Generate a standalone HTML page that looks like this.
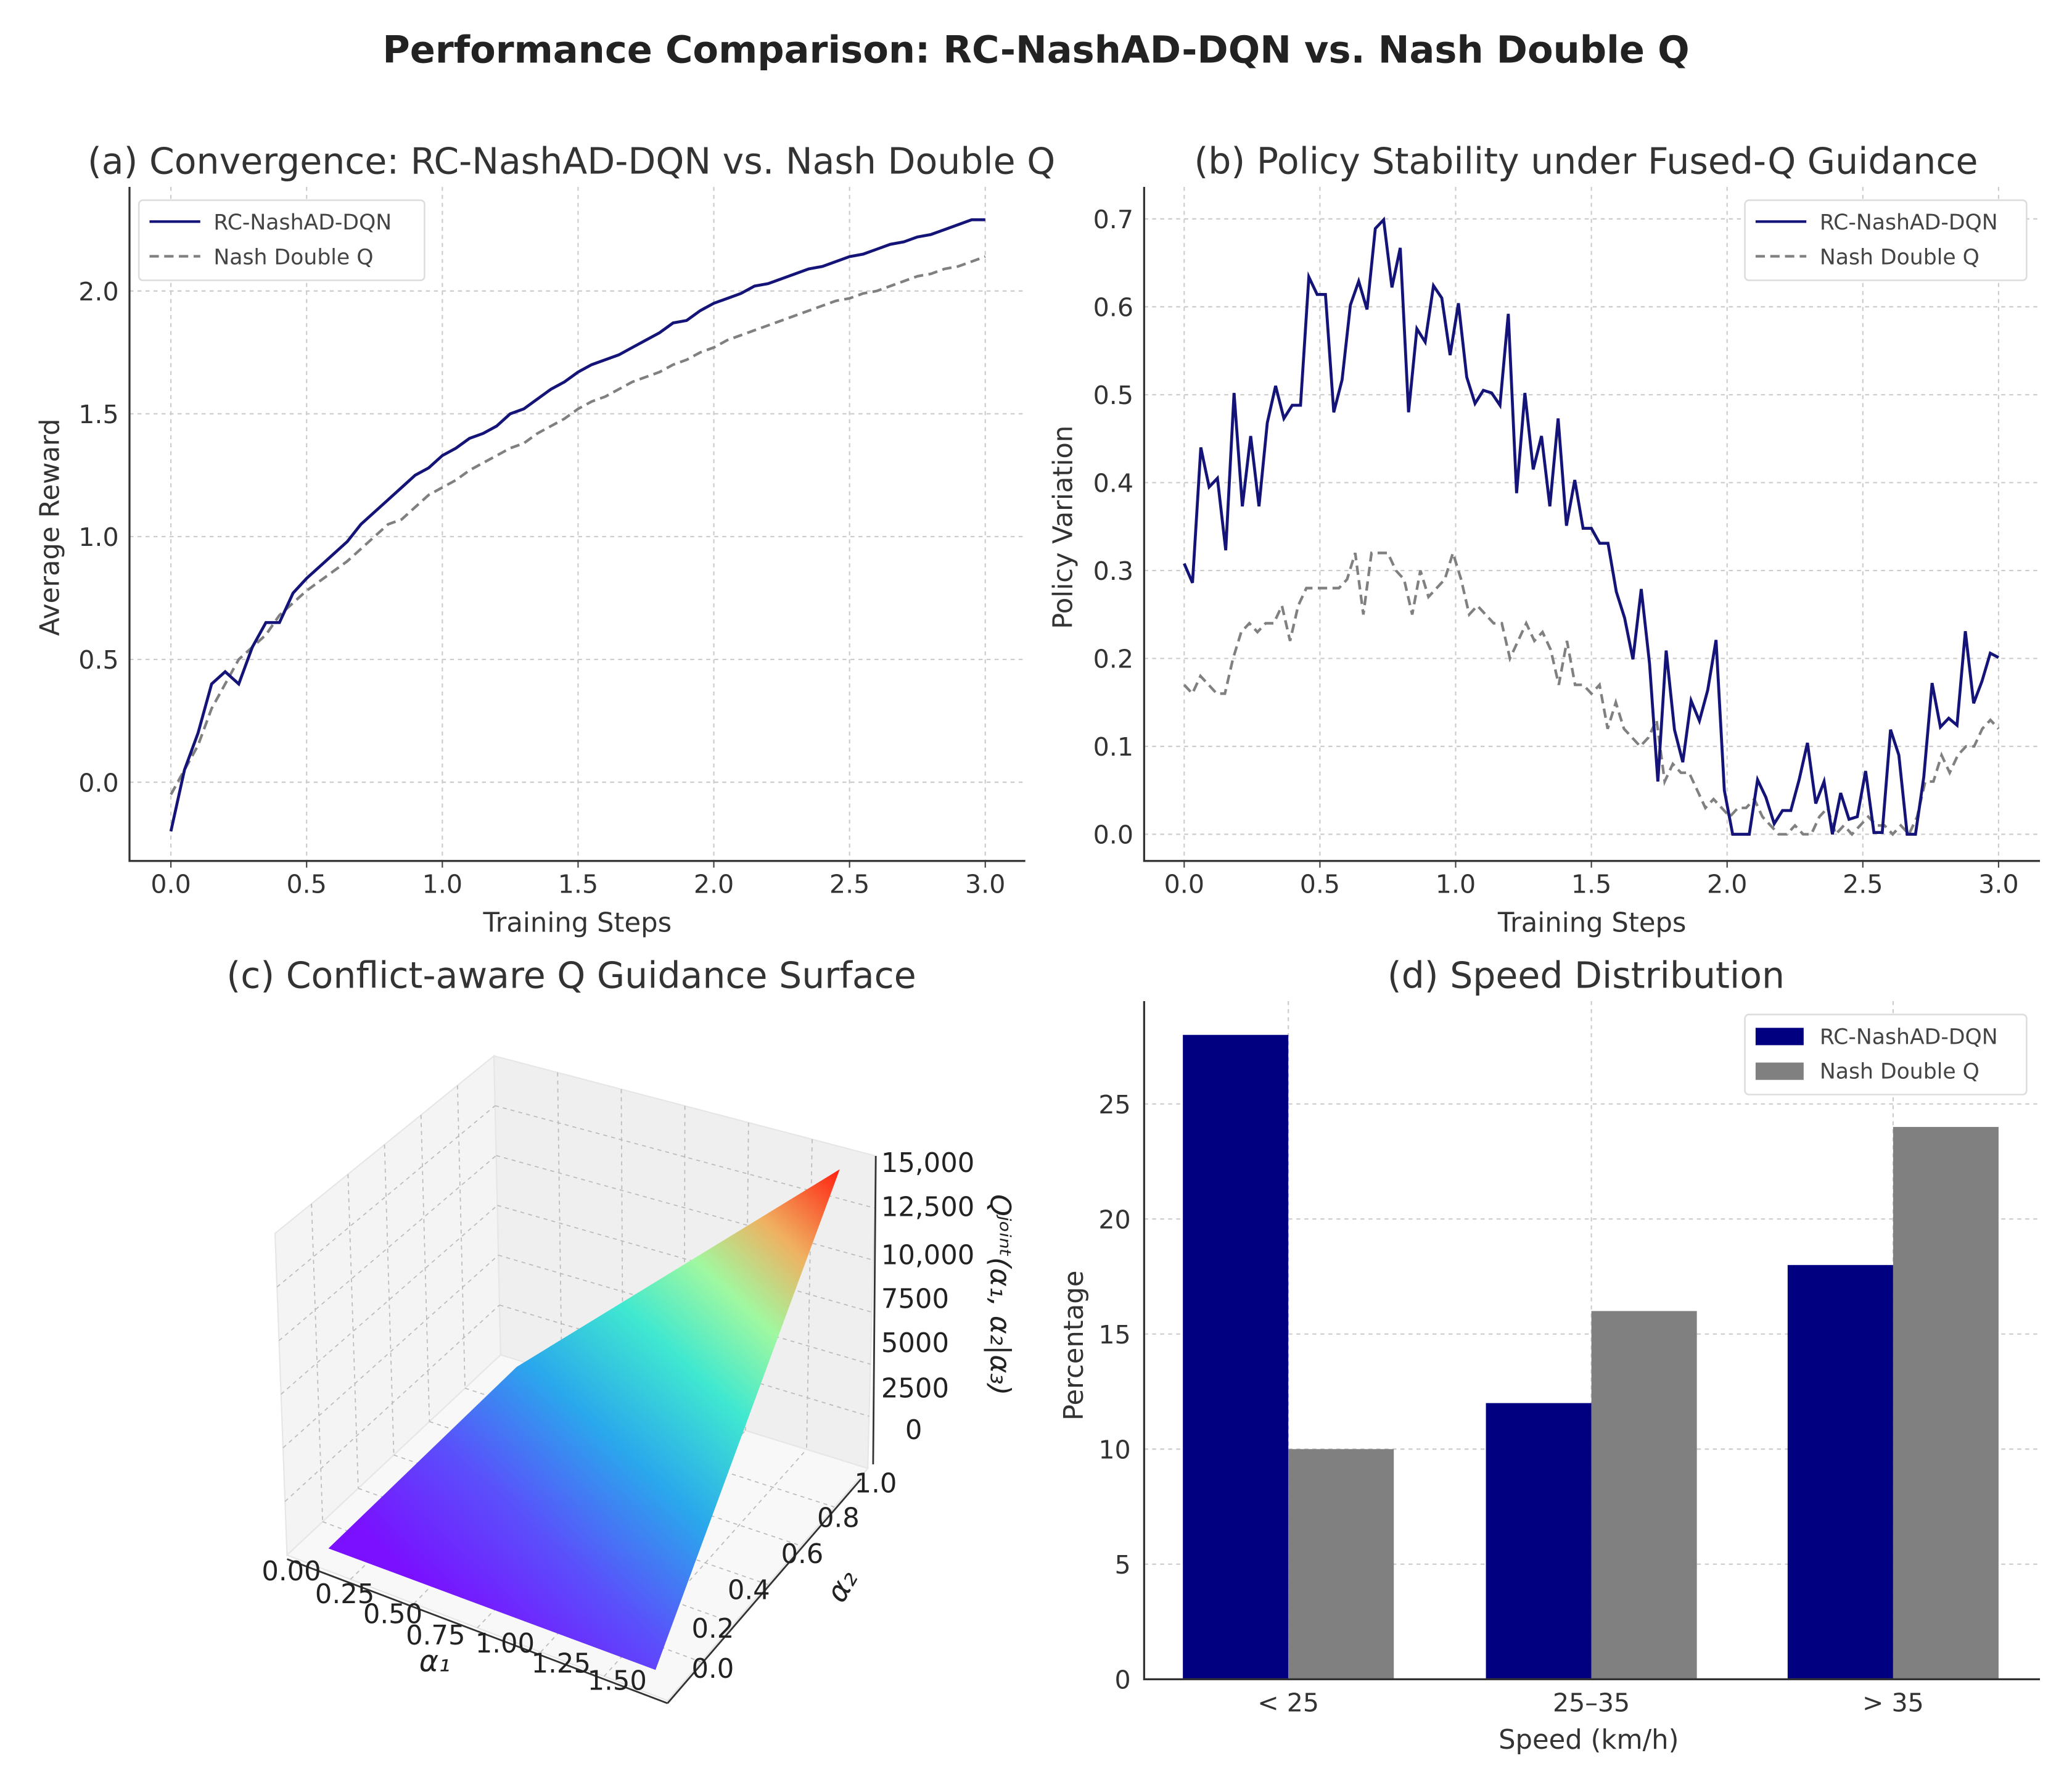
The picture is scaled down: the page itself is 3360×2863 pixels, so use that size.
<!DOCTYPE html>
<html><head><meta charset="utf-8">
<style>
html,body{margin:0;padding:0;background:#fff;}
svg{display:block;}
text{font-family:"DejaVu Sans","Liberation Sans",sans-serif;}
</style></head>
<body>
<svg id="fig" xmlns="http://www.w3.org/2000/svg" width="3360" height="2863" viewBox="0 0 1552 1323" preserveAspectRatio="none">
<defs>
<linearGradient id="rain" gradientUnits="userSpaceOnUse" x1="330" y1="1200" x2="629" y2="876">
<stop offset="0" stop-color="#7a10ff"/>
<stop offset="0.2" stop-color="#5a50fb"/>
<stop offset="0.4" stop-color="#2aa8ec"/>
<stop offset="0.58" stop-color="#40e8d0"/>
<stop offset="0.72" stop-color="#a0f8a0"/>
<stop offset="0.85" stop-color="#f0b060"/>
<stop offset="1" stop-color="#ff2010"/>
</linearGradient>
</defs>
<text x="776" y="47" text-anchor="middle" font-size="28" font-weight="bold" fill="#222">Performance Comparison: RC-NashAD-DQN vs. Nash Double Q</text>
<g id="pa"></g>
<g id="pb"></g>
<g id="pc"></g>
<g id="pd"></g>
</svg>
<script>
// Panel (a) data
const aBlue = [-0.2,0.05,0.2,0.4,0.45,0.4,0.55,0.65,0.65,0.77,0.83,0.88,0.93,0.98,1.05,1.1,1.15,1.2,1.25,1.28,1.33,1.36,1.4,1.42,1.45,1.5,1.52,1.56,1.6,1.63,1.67,1.7,1.72,1.74,1.77,1.8,1.83,1.87,1.88,1.92,1.95,1.97,1.99,2.02,2.03,2.05,2.07,2.09,2.1,2.12,2.14,2.15,2.17,2.19,2.2,2.22,2.23,2.25,2.27,2.29,2.29];
const aGray = [-0.05,0.05,0.15,0.3,0.4,0.5,0.55,0.6,0.68,0.73,0.78,0.82,0.86,0.9,0.95,1.0,1.05,1.07,1.12,1.17,1.2,1.23,1.27,1.3,1.33,1.36,1.38,1.42,1.45,1.48,1.52,1.55,1.57,1.6,1.63,1.65,1.67,1.7,1.72,1.75,1.77,1.8,1.82,1.84,1.86,1.88,1.9,1.92,1.94,1.96,1.97,1.99,2.0,2.02,2.04,2.06,2.07,2.09,2.1,2.12,2.14];
const aXTicks = [0,0.5,1,1.5,2,2.5,3];
const aXLabels = ["0.0","0.5","1.0","1.5","2.0","2.5","3.0"];
const aYTicks = [0,0.5,1,1.5,2];
const aYLabels = ["0.0","0.5","1.0","1.5","2.0"];
// Panel (b) data
const bBlue = [0.308,0.286,0.44,0.395,0.405,0.323,0.502,0.373,0.453,0.373,0.468,0.51,0.473,0.488,0.488,0.634,0.614,0.614,0.48,0.517,0.602,0.629,0.597,0.689,0.699,0.622,0.667,0.48,0.575,0.56,0.624,0.61,0.545,0.604,0.52,0.49,0.505,0.502,0.488,0.592,0.388,0.502,0.415,0.453,0.373,0.473,0.351,0.403,0.348,0.348,0.331,0.331,0.276,0.246,0.199,0.279,0.194,0.06,0.209,0.119,0.082,0.152,0.129,0.164,0.221,0.05,0,0,0,0.062,0.042,0.012,0.027,0.027,0.062,0.104,0.035,0.06,0,0.047,0.017,0.02,0.072,0.002,0.002,0.119,0.09,0,0,0.065,0.172,0.122,0.132,0.124,0.231,0.149,0.174,0.206,0.201];
const bGray = [0.17,0.16,0.18,0.17,0.16,0.16,0.2,0.23,0.24,0.23,0.24,0.24,0.26,0.22,0.26,0.28,0.28,0.28,0.28,0.28,0.29,0.32,0.25,0.32,0.32,0.32,0.3,0.29,0.25,0.3,0.27,0.28,0.29,0.32,0.29,0.25,0.26,0.25,0.24,0.24,0.2,0.22,0.24,0.22,0.23,0.21,0.17,0.22,0.17,0.17,0.16,0.17,0.12,0.15,0.12,0.11,0.1,0.11,0.13,0.06,0.08,0.07,0.07,0.05,0.03,0.04,0.03,0.02,0.03,0.03,0.04,0.02,0.01,0,0,0.01,0,0,0.02,0.03,0,0.01,0,0.01,0.02,0.01,0.01,0,0.01,0,0.02,0.06,0.06,0.09,0.07,0.09,0.1,0.1,0.12,0.13,0.12];
const bXTicks = [0,0.5,1,1.5,2,2.5,3];
const bXLabels = ["0.0","0.5","1.0","1.5","2.0","2.5","3.0"];
const bYTicks = [0,0.1,0.2,0.3,0.4,0.5,0.6,0.7];
const bYLabels = ["0.0","0.1","0.2","0.3","0.4","0.5","0.6","0.7"];
// Panel (d) data
const dCategories = ["< 25","25–35","> 35"];
const dBlue = [28,12,18];
const dGray = [10,16,24];
const dYTicks = [0,5,10,15,20,25];
const dYLabels = ["0","5","10","15","20","25"];

const NS="http://www.w3.org/2000/svg";
function mk(parent,tag,attrs,txt){const e=document.createElementNS(NS,tag);for(const k in attrs)e.setAttribute(k,attrs[k]);if(txt!==undefined)e.textContent=txt;parent.appendChild(e);return e;}

function linePanel(g,cfg){
  const {L,R,T,B,x0px,x3px,ymap,xT,xL,yT,yL,blue,gray,title,titleX,ylabel,ylabelX}=cfg;
  const xs=v=>x0px+(x3px-x0px)*v/3;
  xT.forEach((v,i)=>{
    const gl=mk(g,'line',{x1:xs(v),x2:xs(v),y1:T,y2:B,stroke:'#ccc','stroke-width':1,'stroke-dasharray':'3,3'});
    
    
    const tk=mk(g,'line',{x1:xs(v),x2:xs(v),y1:B,y2:B+5,stroke:'#444','stroke-width':1});
    
    
    const t=mk(g,'text',{x:xs(v),y:B+24,'text-anchor':'middle','font-size':19,fill:'#333'},xL[i]);
    
    
  });
  yT.forEach((v,i)=>{
    const gl=mk(g,'line',{x1:L,x2:R,y1:ymap(v),y2:ymap(v),stroke:'#ccc','stroke-width':1,'stroke-dasharray':'3,3'});
    
    
    const t=mk(g,'text',{x:L-8,y:ymap(v)+7,'text-anchor':'end','font-size':19,fill:'#333'},yL[i]);
    
    
  });
  const ax=mk(g,'path',{d:`M${L},${T} L${L},${B} L${R},${B}`,fill:'none',stroke:'#333','stroke-width':1.5});
  
  
  const pts=arr=>arr.map((v,i)=>`${xs(3*i/(arr.length-1)).toFixed(2)},${ymap(v).toFixed(2)}`).join(' ');
  const pg=mk(g,'polyline',{points:pts(gray),fill:'none',stroke:'#808080','stroke-width':2,'stroke-dasharray':'7,4'});
  
  
  const pb=mk(g,'polyline',{points:pts(blue),fill:'none',stroke:'#141478','stroke-width':2.2});
  
  
  const tt=mk(g,'text',{x:titleX,y:130,'text-anchor':'middle','font-size':27,fill:'#333'},title);
  
  
  const xl=mk(g,'text',{x:(L+R)/2,y:698,'text-anchor':'middle','font-size':20,fill:'#333'},'Training Steps');
  
  
  const yl=mk(g,'text',{x:ylabelX,y:395,'text-anchor':'middle','font-size':20,fill:'#333',transform:`rotate(-90 ${ylabelX} 395)`},ylabel);
  
  
}
function legend(g,x,y,w,bars){
  const bx=mk(g,'rect',{x:x,y:y,width:w,height:60,rx:3,fill:'#fff',stroke:'#ddd','stroke-width':1.2});
  
  
  const names=['RC-NashAD-DQN','Nash Double Q'];
  names.forEach((n,i)=>{
    const yy=y+16+i*26;
    if(bars){
      const r=mk(g,'rect',{x:x+8,y:yy-6,width:36,height:13,fill:i?'#808080':'#000080'});
      
      
    } else {
      const l=mk(g,'line',{x1:x+8,x2:x+46,y1:yy,y2:yy,stroke:i?'#808080':'#141478','stroke-width':2,'stroke-dasharray':i?'7,4':'none'});
      
      
    }
    const t=mk(g,'text',{x:x+56,y:yy+6,'font-size':16,fill:'#444'},n);
    
    
  });
}

const pa=document.getElementById('pa');
linePanel(pa,{L:97,R:768,T:140,B:645,x0px:128,x3px:738,ymap:v=>586-184*v,xT:aXTicks,xL:aXLabels,yT:aYTicks,yL:aYLabels,blue:aBlue,gray:aGray,title:'(a) Convergence: RC-NashAD-DQN vs. Nash Double Q',titleX:428,ylabel:'Average Reward',ylabelX:44});
legend(pa,104,150,214,false);

const pb=document.getElementById('pb');
linePanel(pb,{L:857,R:1528,T:140,B:645,x0px:887,x3px:1497,ymap:v=>625-658.6*v,xT:bXTicks,xL:bXLabels,yT:bYTicks,yL:bYLabels,blue:bBlue,gray:bGray,title:'(b) Policy Stability under Fused-Q Guidance',titleX:1188,ylabel:'Policy Variation',ylabelX:803});
legend(pb,1307,150,211,false);

// Panel (d)
const pd=document.getElementById('pd');
(function(){
  const L=857,R=1528,T=750,B=1258;
  const ys=v=>B-17.24*v;
  const centers=[965,1192,1418], bw=79;
  dYTicks.forEach((v,i)=>{
    const gl=mk(pd,'line',{x1:L,x2:R,y1:ys(v),y2:ys(v),stroke:'#ccc','stroke-width':1,'stroke-dasharray':'3,3'});
    
    
    const t=mk(pd,'text',{x:L-10,y:ys(v)+7,'text-anchor':'end','font-size':19,fill:'#333'},dYLabels[i]);
    
    
  });
  centers.forEach(c=>{
    const gl=mk(pd,'line',{x1:c,x2:c,y1:T,y2:B,stroke:'#ccc','stroke-width':1,'stroke-dasharray':'3,3'});
    
    
  });
  dCategories.forEach((c,i)=>{
    const b1=mk(pd,'rect',{x:centers[i]-bw,y:ys(dBlue[i]),width:bw,height:B-ys(dBlue[i]),fill:'#000080'});
    
    
    const b2=mk(pd,'rect',{x:centers[i],y:ys(dGray[i]),width:bw,height:B-ys(dGray[i]),fill:'#808080'});
    
    
    const t=mk(pd,'text',{x:centers[i],y:B+24,'text-anchor':'middle','font-size':19,fill:'#333'},c);
    
    
  });
  const ax=mk(pd,'path',{d:`M${L},${T} L${L},${B} L${R},${B}`,fill:'none',stroke:'#333','stroke-width':1.5});
  
  
  const tt=mk(pd,'text',{x:1188,y:740,'text-anchor':'middle','font-size':27,fill:'#333'},'(d) Speed Distribution');
  
  
  const xl=mk(pd,'text',{x:1190,y:1310,'text-anchor':'middle','font-size':20,fill:'#333'},'Speed (km/h)');
  
  
  const yl=mk(pd,'text',{x:811,y:1008,'text-anchor':'middle','font-size':20,fill:'#333',transform:'rotate(-90 811 1008)'},'Percentage');
  
  
  legend(pd,1307,760,211,true);
})();

// Panel (c) 3D surface
const pc=document.getElementById('pc');
(function(){
  const lw=mk(pc,'polygon',{points:'206,924 370,791 375,1015 215,1165',fill:'#f4f4f4',stroke:'#e6e6e6'});
  
  
  const rw=mk(pc,'polygon',{points:'370,791 656,866 650,1100 375,1015',fill:'#efefef',stroke:'#e6e6e6'});
  
  
  const fl=mk(pc,'polygon',{points:'215,1165 375,1015 650,1100 500,1274',fill:'#f8f8f8',stroke:'#e6e6e6'});
  
  
  const gs='#bbb';
  for(let i=1;i<6;i++){
    const f=i/6;
    mk(pc,'line',{x1:206+164*f,y1:924-133*f,x2:215+160*f,y2:1165-150*f,stroke:gs,'stroke-dasharray':'3,3','stroke-width':0.8});
    mk(pc,'line',{x1:206+9*f,y1:924+241*f,x2:370+5*f,y2:791+224*f,stroke:gs,'stroke-dasharray':'3,3','stroke-width':0.8});
    mk(pc,'line',{x1:370+286*f,y1:791+75*f,x2:375+275*f,y2:1015+85*f,stroke:gs,'stroke-dasharray':'3,3','stroke-width':0.8});
    mk(pc,'line',{x1:370+5*f,y1:791+224*f,x2:656-6*f,y2:866+234*f,stroke:gs,'stroke-dasharray':'3,3','stroke-width':0.8});
    mk(pc,'line',{x1:215+285*f,y1:1165+109*f,x2:375+275*f,y2:1015+85*f,stroke:gs,'stroke-dasharray':'3,3','stroke-width':0.8});
    mk(pc,'line',{x1:215+160*f,y1:1165-150*f,x2:500+150*f,y2:1274-174*f,stroke:gs,'stroke-dasharray':'3,3','stroke-width':0.8});
  }
  const s=mk(pc,'polygon',{points:'246,1160 387,1024 629,876 491,1251',fill:'url(#rain)'});
  
  
  const a1=mk(pc,'line',{x1:215,y1:1168,x2:500,y2:1276,stroke:'#333','stroke-width':1.3});
  
  
  const a2=mk(pc,'line',{x1:500,y1:1276,x2:645,y2:1108,stroke:'#333','stroke-width':1.3});
  
  
  const az=mk(pc,'line',{x1:656,y1:866,x2:654,y2:1097,stroke:'#333','stroke-width':1.3});
  
  
  const a1L=[["0.00",196,1184],["0.25",236,1201],["0.50",272,1216],["0.75",304,1232],["1.00",356,1238],["1.25",398,1253],["1.50",440,1266]];
  a1L.forEach(d=>{const t=mk(pc,'text',{x:d[1],y:d[2],'font-size':20,fill:'#222'},d[0]);});
  const a2L=[["0.0",518,1257],["0.2",518,1227],["0.4",545,1198],["0.6",585,1171],["0.8",612,1144],["1.0",640,1118]];
  a2L.forEach(d=>{const t=mk(pc,'text',{x:d[1],y:d[2],'font-size':20,fill:'#222'},d[0]);});
  const zL=[["15,000",878],["12,500",911],["10,000",947],["7500",980],["5000",1013],["2500",1047],["0",1078]];
  zL.forEach(d=>{const t=mk(pc,'text',{x:d[0]==='0'?678:660,y:d[1],'font-size':20,fill:'#222'},d[0]);});
  const zl=mk(pc,'text',{x:742,y:970,'text-anchor':'middle','font-size':21,'font-style':'italic',fill:'#222',transform:'rotate(90 742 970)','font-family':'Liberation Serif, serif'},'Qʲᵒⁱⁿᵗ(α₁, α₂|α₃)');
  
  
  const l1=mk(pc,'text',{x:314,y:1252,'font-size':22,'font-style':'italic',fill:'#222','font-family':'Liberation Serif, serif'},'α₁');
  
  
  const l2=mk(pc,'text',{x:622,y:1198,'font-size':22,'font-style':'italic',fill:'#222','font-family':'Liberation Serif, serif',transform:'rotate(-60 630 1192)'},'α₂');
  
  
  const tt=mk(pc,'text',{x:428,y:740,'text-anchor':'middle','font-size':27,fill:'#333'},'(c) Conflict-aware Q Guidance Surface');
  
  
})();
</script>
</body></html>
